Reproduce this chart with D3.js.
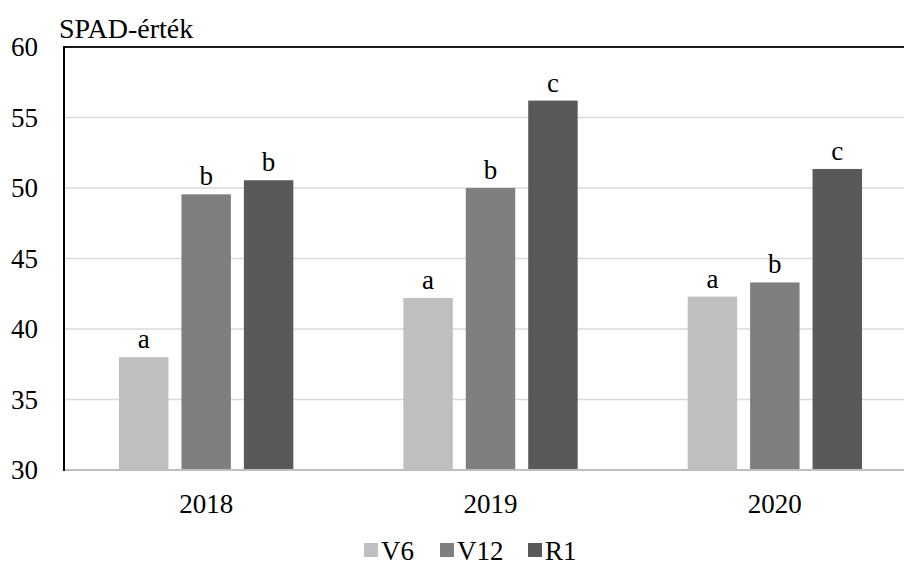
<!DOCTYPE html>
<html>
<head>
<meta charset="utf-8">
<script src="https://cdn.jsdelivr.net/npm/d3@7/dist/d3.min.js"></script>
<style>
  html, body { margin: 0; padding: 0; background: #fff; }
  svg { display: block; }
</style>
</head>
<body>
<svg id="chart" width="904" height="565"></svg>
<script>
// SPAD readings per year and growth stage
const years = ["2018", "2019", "2020"];
const stages = ["V6", "V12", "R1"];
const valuesV6 = [38.0, 42.2, 42.3];
const valuesV12 = [49.55, 50.0, 43.3];
const valuesR1 = [50.55, 56.2, 51.35];
const lettersV6 = ["a", "a", "a"];
const lettersV12 = ["b", "b", "b"];
const lettersR1 = ["b", "c", "c"];
const yTicks = [30, 35, 40, 45, 50, 55, 60];
const stageColors = ["#bfbfbf", "#7f7f7f", "#595959"];

const seriesValues = [valuesV6, valuesV12, valuesR1];
const seriesLetters = [lettersV6, lettersV12, lettersR1];
const serif = '"Liberation Serif", "Times New Roman", Times, serif';

const svg = d3.select("#chart");
const plotLeft = 64, plotTop = 47, plotBottom = 470, plotRight = 917;

const x = d3.scaleBand().domain(years).range([plotLeft, plotRight]).paddingInner(0).paddingOuter(0);
const groupPad = 55;
const xs = d3.scaleBand().domain(stages)
  .range([groupPad, x.bandwidth() - groupPad])
  .paddingInner(0.208).paddingOuter(0);
const y = d3.scaleLinear().domain([30, 60]).range([plotBottom, plotTop]);

// horizontal gridlines
svg.append("g").selectAll("line")
  .data(yTicks.filter(t => t > 30 && t < 60))
  .join("line")
  .attr("x1", plotLeft).attr("x2", plotRight)
  .attr("y1", d => y(d)).attr("y2", d => y(d))
  .attr("stroke", "#d9d9d9").attr("stroke-width", 1.3);

// bars + significance letters
const rows = [];
years.forEach((yr, i) => {
  stages.forEach((s, j) => {
    rows.push({ year: yr, stage: s, value: seriesValues[j][i], letter: seriesLetters[j][i], color: stageColors[j] });
  });
});

svg.append("g").selectAll("rect")
  .data(rows)
  .join("rect")
  .attr("x", d => x(d.year) + xs(d.stage))
  .attr("y", d => y(d.value))
  .attr("width", xs.bandwidth())
  .attr("height", d => y(30) - y(d.value))
  .attr("fill", d => d.color);

svg.append("g").selectAll("text")
  .data(rows)
  .join("text")
  .attr("x", d => x(d.year) + xs(d.stage) + xs.bandwidth() / 2)
  .attr("y", d => y(d.value) - 9)
  .attr("text-anchor", "middle")
  .attr("font-size", 27)
  .style("font-family", serif)
  .attr("fill", "#000")
  .text(d => d.letter);

// bottom axis line (light grey)
svg.append("line")
  .attr("x1", plotLeft).attr("x2", plotRight)
  .attr("y1", plotBottom).attr("y2", plotBottom)
  .attr("stroke", "#bfbfbf").attr("stroke-width", 2);

// plot frame: top and left edges
svg.append("line")
  .attr("x1", plotLeft).attr("x2", plotRight)
  .attr("y1", plotTop).attr("y2", plotTop)
  .attr("stroke", "#1a1a1a").attr("stroke-width", 2);
svg.append("line")
  .attr("x1", plotLeft).attr("x2", plotLeft)
  .attr("y1", plotTop - 1).attr("y2", plotBottom + 1)
  .attr("stroke", "#000").attr("stroke-width", 2);

// y tick labels
svg.append("g").selectAll("text")
  .data(yTicks)
  .join("text")
  .attr("x", 38)
  .attr("y", d => y(d) + 9)
  .attr("text-anchor", "end")
  .attr("font-size", 27)
  .style("font-family", serif)
  .attr("fill", "#000")
  .text(d => d);

// axis title
svg.append("text")
  .attr("x", 59).attr("y", 38)
  .attr("font-size", 28)
  .style("font-family", serif)
  .attr("fill", "#000")
  .text("SPAD-érték");

// category labels
svg.append("g").selectAll("text")
  .data(years)
  .join("text")
  .attr("x", d => x(d) + x.bandwidth() / 2)
  .attr("y", 513)
  .attr("text-anchor", "middle")
  .attr("font-size", 27)
  .style("font-family", serif)
  .attr("fill", "#000")
  .text(d => d);

// legend
const legendX = [364, 440, 528];
const lg = svg.append("g").selectAll("g")
  .data(stages)
  .join("g")
  .attr("transform", (d, i) => `translate(${legendX[i]},543)`);
lg.append("rect").attr("width", 14).attr("height", 14).attr("fill", (d, i) => stageColors[i]);
lg.append("text").attr("x", 17).attr("y", 17).attr("font-size", 27)
  .style("font-family", serif).attr("fill", "#000").text(d => d);
</script>
</body>
</html>
